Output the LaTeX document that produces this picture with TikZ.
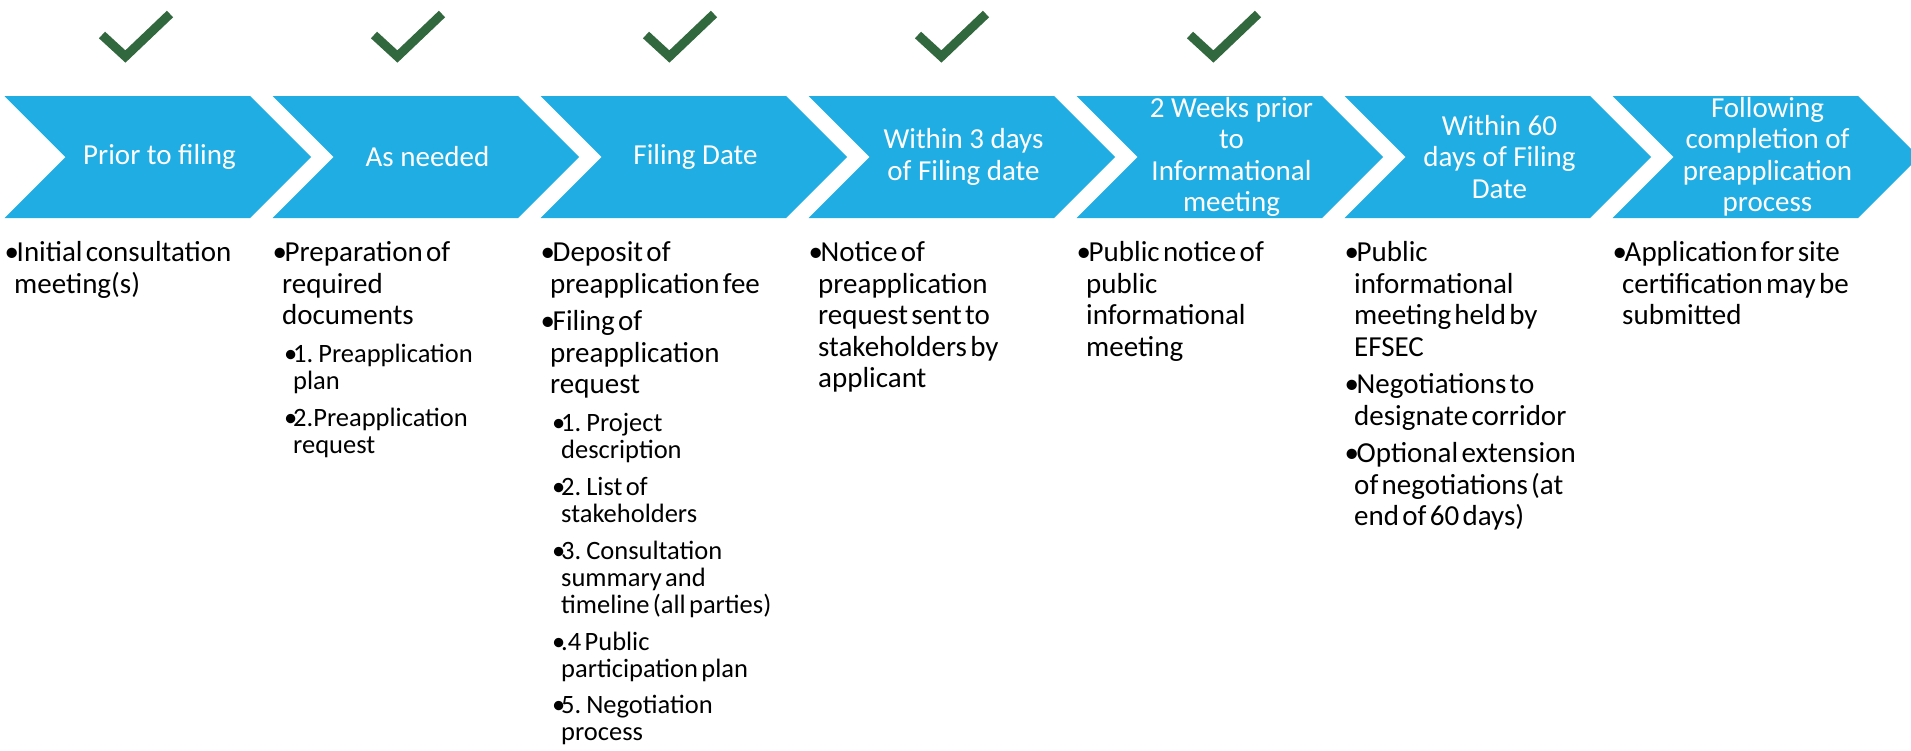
\documentclass[tikz,border=0pt]{standalone}
\usepackage{fontspec}
\setmainfont{Carlito}
\definecolor{chevblue}{RGB}{32,173,227}
\definecolor{tickgreen}{RGB}{49,104,62}
\newcommand{\hdfont}{\fontsize{29}{31.5}\selectfont}
\newcommand{\mnfont}{\fontsize{29}{31.5}\selectfont}
\newcommand{\sbfont}{\fontsize{26.5}{27}\selectfont}
\newcommand{\lvlone}[2][6pt]{\vspace{#1}{\mnfont\hangindent=9.5pt\hangafter=1\noindent\makebox[12pt][l]{\textbullet}\strut#2\par}}
\newcommand{\lvltwo}[2][9.8pt]{\vspace{#1}{\sbfont\leftskip=11.5pt\hangindent=9pt\hangafter=1\noindent\makebox[9pt][l]{\textbullet}\strut#2\par}}

\begin{document}
\begin{tikzpicture}[x=1pt,y=-1pt,
    hdr/.style={text=white,font=\hdfont,align=center,inner sep=0pt},
    col/.style={anchor=north west,text width=258pt,inner sep=0pt},
    tick/.style={draw=tickgreen,line width=9pt,line join=miter}]
        \useasboundingbox (0,0) rectangle (1911,750);
        \foreach \i in {0,...,6}
            \fill[chevblue] ({4.5+268*\i},96) -- ++(245.5,0) -- ++(61,61) -- ++(-61,61) -- ++(-245.5,0) -- ++(61,-61) -- cycle;
        \foreach \i in {0,...,4}
            \draw[tick] ({102+272*\i},35) -- ++(23.4,21.5) -- ++(44.6,-42.5);
        \node[hdr] (h1) at (159.5,157) {Prior to filing};
        \node[hdr] (h2) at (427.5,157) {As needed};
        \node[hdr] (h3) at (695.5,157) {Filing Date};
        \node[hdr] (h4) at (963.5,157) {Within 3 days\\of Filing date};
        \node[hdr] (h5) at (1231.5,157) {2 Weeks prior\\to\\Informational\\meeting};
        \node[hdr] (h6) at (1499.5,157) {Within 60\\days of Filing\\Date};
        \node[hdr] (h7) at (1767.5,157) {Following\\completion of\\preapplication\\process};
        \node[col] (c1) at (4.5,239.5) {\lvlone[0pt]{Initial consultation\newline meeting(s)}};
        \node[col] (c2) at (272.5,239.5) {\lvlone[0pt]{Preparation of\newline required\newline documents}
            \lvltwo[11pt]{1. Preapplication\newline plan}
            \lvltwo{2.Preapplication\newline request}};
        \node[col] (c3) at (540.5,239.5) {\lvlone[0pt]{Deposit of\newline preapplication fee}
            \lvlone{Filing of\newline preapplication\newline request}
            \lvltwo[11pt]{1. Project\newline description}
            \lvltwo{2. List of\newline stakeholders}
            \lvltwo{3. Consultation\newline summary and\newline timeline (all parties)}
            \lvltwo{.4 Public\newline participation plan}
            \lvltwo{5. Negotiation\newline process}};
        \node[col] (c4) at (808.5,239.5) {\lvlone[0pt]{Notice of\newline preapplication\newline request sent to\newline stakeholders by\newline applicant}};
        \node[col] (c5) at (1076.5,239.5) {\lvlone[0pt]{Public notice of\newline public\newline informational\newline meeting}};
        \node[col] (c6) at (1344.5,239.5) {\lvlone[0pt]{Public\newline informational\newline meeting held by\newline EFSEC}
            \lvlone{Negotiations to\newline designate corridor}
            \lvlone{Optional extension\newline of negotiations (at\newline end of 60 days)}};
        \node[col] (c7) at (1612.5,239.5) {\lvlone[0pt]{Application for site\newline certification may be\newline submitted}};
      \end{tikzpicture}
\end{document}
